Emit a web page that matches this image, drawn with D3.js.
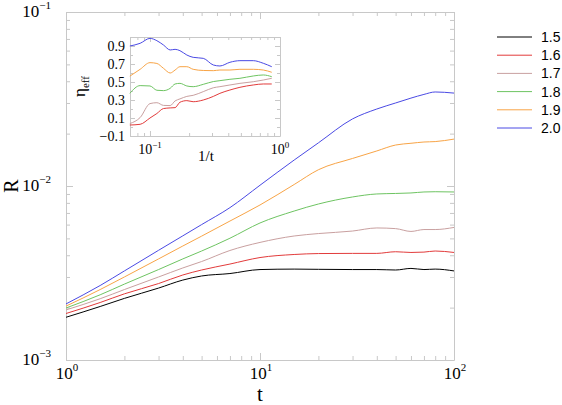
<!DOCTYPE html>
<html>
<head>
<meta charset="utf-8">
<script src="https://cdn.jsdelivr.net/npm/d3@7"></script>
<style>
  html, body { margin: 0; padding: 0; background: #fff; }
  svg { display: block; }
</style>
</head>
<body>
<svg id="chart" width="562" height="405"></svg>
<script>
// ---------------- data ----------------
const tValues = [1, 1.5, 2, 3, 4, 5, 7, 10, 15, 20, 30, 40, 50, 60, 70, 80, 100];
const seriesNames = ["1.5", "1.6", "1.7", "1.8", "1.9", "2.0"];
const seriesColors = ["#000000", "#e23b3b", "#c9a0a0", "#6ec462", "#f8a446", "#4a4ae4"];
const R_15 = [0.00176, 0.00203, 0.00226, 0.00259, 0.00288, 0.00304, 0.00314, 0.00331, 0.00333, 0.00332, 0.00331, 0.00331, 0.00329, 0.00336, 0.00331, 0.00333, 0.00325];
const R_16 = [0.00185, 0.00214, 0.00240, 0.00275, 0.00308, 0.00329, 0.00356, 0.00388, 0.00404, 0.00409, 0.00410, 0.00410, 0.00419, 0.00415, 0.00417, 0.00423, 0.00415];
const R_17 = [0.00194, 0.00225, 0.00254, 0.00300, 0.00338, 0.00368, 0.00426, 0.00474, 0.00516, 0.00533, 0.00551, 0.00574, 0.00569, 0.00548, 0.00562, 0.00562, 0.00578];
const R_18 = [0.00199, 0.00237, 0.00273, 0.00331, 0.00381, 0.00423, 0.00501, 0.00613, 0.00718, 0.00788, 0.00865, 0.00900, 0.00906, 0.00912, 0.00924, 0.00927, 0.00924];
const R_19 = [0.00204, 0.00254, 0.00300, 0.00381, 0.00452, 0.00515, 0.00629, 0.00778, 0.0102, 0.0124, 0.0144, 0.0159, 0.0172, 0.0176, 0.0179, 0.0180, 0.0186];
const R_20 = [0.00210, 0.00268, 0.00325, 0.00427, 0.00517, 0.00600, 0.00751, 0.0101, 0.0141, 0.0177, 0.0243, 0.0277, 0.0300, 0.0320, 0.0336, 0.0347, 0.0342];
const mainSeries = [R_15, R_16, R_17, R_18, R_19, R_20];

// inset: effective exponent vs 1/t
const invT = [0.070, 0.084, 0.100, 0.113, 0.127, 0.143, 0.156, 0.170, 0.192, 0.215, 0.257, 0.307, 0.345, 0.412, 0.492, 0.623, 0.744, 0.864];
const eta_16 = [0.022, 0.030, 0.100, 0.150, 0.205, 0.212, 0.215, 0.275, 0.293, 0.281, 0.300, 0.340, 0.374, 0.411, 0.441, 0.467, 0.478, 0.478];
const eta_17 = [0.038, 0.105, 0.260, 0.270, 0.240, 0.238, 0.290, 0.312, 0.340, 0.352, 0.393, 0.436, 0.448, 0.467, 0.485, 0.503, 0.522, 0.541];
const eta_18 = [0.374, 0.460, 0.456, 0.408, 0.404, 0.430, 0.478, 0.485, 0.456, 0.448, 0.474, 0.505, 0.515, 0.530, 0.541, 0.567, 0.578, 0.559];
const eta_19 = [0.565, 0.641, 0.715, 0.706, 0.652, 0.600, 0.633, 0.670, 0.670, 0.641, 0.628, 0.626, 0.633, 0.633, 0.641, 0.641, 0.633, 0.608];
const eta_20 = [0.900, 0.930, 0.985, 0.959, 0.911, 0.856, 0.863, 0.848, 0.800, 0.774, 0.763, 0.689, 0.678, 0.719, 0.737, 0.737, 0.708, 0.670];
const insetSeries = [eta_16, eta_17, eta_18, eta_19, eta_20];
const insetColors = ["#e23b3b", "#c9a0a0", "#6ec462", "#f8a446", "#4a4ae4"];

const mainXTickExp = [0, 1, 2];
const mainYTickExp = [-3, -2, -1];
const insetYTicks = [-0.1, 0.1, 0.3, 0.5, 0.7, 0.9];
const insetXTickExp = [-1, 0];

// ---------------- drawing ----------------
const svg = d3.select("#chart");
const frameColor = "#c8c8c8";
const serif = "'Liberation Serif', 'DejaVu Serif', serif";
const sans = "'Liberation Sans', Arial, sans-serif";

const M = {left: 66, right: 454, top: 12, bottom: 360};
const x = d3.scaleLog().domain([1, 100]).range([M.left, M.right]);
const y = d3.scaleLog().domain([1e-3, 1e-1]).range([M.bottom, M.top]);

function minorLogTicks(lo, hi) {
  const out = [];
  for (let e = lo; e < hi; e++) {
    for (let m = 1; m <= 9; m++) out.push(m * Math.pow(10, e));
  }
  out.push(Math.pow(10, hi));
  return out;
}
const xTicksAll = minorLogTicks(0, 2);
const yTicksAll = minorLogTicks(-3, -1);
const isMajor = v => Math.abs(Math.log10(v) - Math.round(Math.log10(v))) < 1e-9;

const gMain = svg.append("g");
function styleAxis(g) {
  g.select(".domain").attr("stroke", frameColor);
  g.selectAll(".tick line").attr("stroke", frameColor);
  g.selectAll(".tick text").remove();
}
gMain.append("g").attr("transform", `translate(0,${M.bottom})`)
  .call(d3.axisBottom(x).tickValues(xTicksAll).tickSizeOuter(0).tickFormat(""))
  .call(g => g.selectAll(".tick line").attr("y2", d => isMajor(d) ? -7 : -4))
  .call(styleAxis);
gMain.append("g").attr("transform", `translate(0,${M.top})`)
  .call(d3.axisTop(x).tickValues(xTicksAll).tickSizeOuter(0).tickFormat(""))
  .call(g => g.selectAll(".tick line").attr("y2", d => isMajor(d) ? 7 : 4))
  .call(styleAxis);
gMain.append("g").attr("transform", `translate(${M.left},0)`)
  .call(d3.axisLeft(y).tickValues(yTicksAll).tickSizeOuter(0).tickFormat(""))
  .call(g => g.selectAll(".tick line").attr("x2", d => isMajor(d) ? 7 : 4))
  .call(styleAxis);
gMain.append("g").attr("transform", `translate(${M.right},0)`)
  .call(d3.axisRight(y).tickValues(yTicksAll).tickSizeOuter(0).tickFormat(""))
  .call(g => g.selectAll(".tick line").attr("x2", d => isMajor(d) ? -7 : -4))
  .call(styleAxis);

function powLabel(g, xPos, yPos, exp, anchor, size, supSize) {
  const t = g.append("text").attr("x", xPos).attr("y", yPos)
    .attr("text-anchor", anchor).attr("font-family", serif).attr("font-size", size).attr("fill", "#000");
  t.append("tspan").text("10");
  t.append("tspan").attr("dy", -size * 0.45).attr("font-size", supSize).text(exp < 0 ? "\u2212" + (-exp) : String(exp));
  return t;
}
mainXTickExp.forEach(e => powLabel(gMain, x(Math.pow(10, e)) + 1, 379, e, "middle", 17, 11));
mainYTickExp.forEach(e => powLabel(gMain, 51, y(Math.pow(10, e)) + 5, e, "end", 17, 11));

gMain.append("text").attr("x", x(10)).attr("y", 401).attr("text-anchor", "middle")
  .attr("font-family", serif).attr("font-size", 21).text("t");
gMain.append("text").attr("transform", `translate(18,${(M.top + M.bottom) / 2}) rotate(-90)`)
  .attr("text-anchor", "middle").attr("font-family", serif).attr("font-size", 20).text("R");

const line = d3.line().x((d, i) => x(tValues[i])).y(d => y(d)).curve(d3.curveMonotoneX);
mainSeries.forEach((s, k) => {
  gMain.append("path").datum(s).attr("d", line).attr("fill", "none")
    .attr("stroke", seriesColors[k]).attr("stroke-width", 1);
});

const legend = svg.append("g");
seriesNames.forEach((n, k) => {
  const ly = 37 + k * 18.2;
  legend.append("line").attr("x1", 497).attr("x2", 532).attr("y1", ly).attr("y2", ly)
    .attr("stroke", seriesColors[k]).attr("stroke-width", 1);
  legend.append("text").attr("x", 541).attr("y", ly + 5).attr("font-family", sans)
    .attr("font-size", 14).text(n);
});

// ---------------- inset ----------------
const I = {left: 130, right: 280, top: 37, bottom: 136};
const xi = d3.scaleLog().domain([0.0702, 1]).range([I.left, I.right]);
const yi = d3.scaleLinear().domain([-0.1, 1.0]).range([I.bottom, I.top]);
const gIn = svg.append("g");
gIn.append("rect").attr("x", I.left).attr("y", I.top).attr("width", I.right - I.left)
  .attr("height", I.bottom - I.top).attr("fill", "#fff");

const xiTicks = [0.08, 0.09, 0.1, 0.2, 0.3, 0.4, 0.5, 0.6, 0.7, 0.8, 0.9, 1];
const yiTicks = d3.range(-0.1, 1.0001, 0.1).map(v => +v.toFixed(2));
const isInsetMajor = v => insetYTicks.some(t => Math.abs(t - v) < 1e-6);
gIn.append("g").attr("transform", `translate(0,${I.bottom})`)
  .call(d3.axisBottom(xi).tickValues(xiTicks).tickSizeOuter(0).tickFormat(""))
  .call(g => g.selectAll(".tick line").attr("y2", d => isMajor(d) ? -5 : -3))
  .call(styleAxis);
gIn.append("g").attr("transform", `translate(0,${I.top})`)
  .call(d3.axisTop(xi).tickValues(xiTicks).tickSizeOuter(0).tickFormat(""))
  .call(g => g.selectAll(".tick line").attr("y2", d => isMajor(d) ? 5 : 3))
  .call(styleAxis);
gIn.append("g").attr("transform", `translate(${I.left},0)`)
  .call(d3.axisLeft(yi).tickValues(yiTicks).tickSizeOuter(0).tickFormat(""))
  .call(g => g.selectAll(".tick line").attr("x2", d => isInsetMajor(d) ? 5 : 3))
  .call(styleAxis);
gIn.append("g").attr("transform", `translate(${I.right},0)`)
  .call(d3.axisRight(yi).tickValues(yiTicks).tickSizeOuter(0).tickFormat(""))
  .call(g => g.selectAll(".tick line").attr("x2", d => isInsetMajor(d) ? -5 : -3))
  .call(styleAxis);

insetYTicks.forEach(v => {
  gIn.append("text").attr("x", 125).attr("y", yi(v) + 5).attr("text-anchor", "end")
    .attr("font-family", serif).attr("font-size", 14)
    .text(v < 0 ? "\u2212" + (-v).toFixed(1) : v.toFixed(1));
});
insetXTickExp.forEach(e => powLabel(gIn, xi(Math.pow(10, e)), 154, e, "middle", 14, 9));
gIn.append("text").attr("x", 206).attr("y", 161).attr("text-anchor", "middle")
  .attr("font-family", serif).attr("font-size", 15).text("1/t");
const etaLab = gIn.append("text").attr("transform", `translate(85,${(I.top + I.bottom) / 2}) rotate(-90)`)
  .attr("text-anchor", "middle").attr("font-family", serif).attr("font-size", 17);
etaLab.append("tspan").text("\u03b7");
etaLab.append("tspan").attr("dy", 4).attr("font-size", 11).text("eff");

const lineI = d3.line().x((d, i) => xi(invT[i])).y(d => yi(d)).curve(d3.curveMonotoneX);
insetSeries.forEach((s, k) => {
  gIn.append("path").datum(s).attr("d", lineI).attr("fill", "none")
    .attr("stroke", insetColors[k]).attr("stroke-width", 1);
});
</script>
</body>
</html>
